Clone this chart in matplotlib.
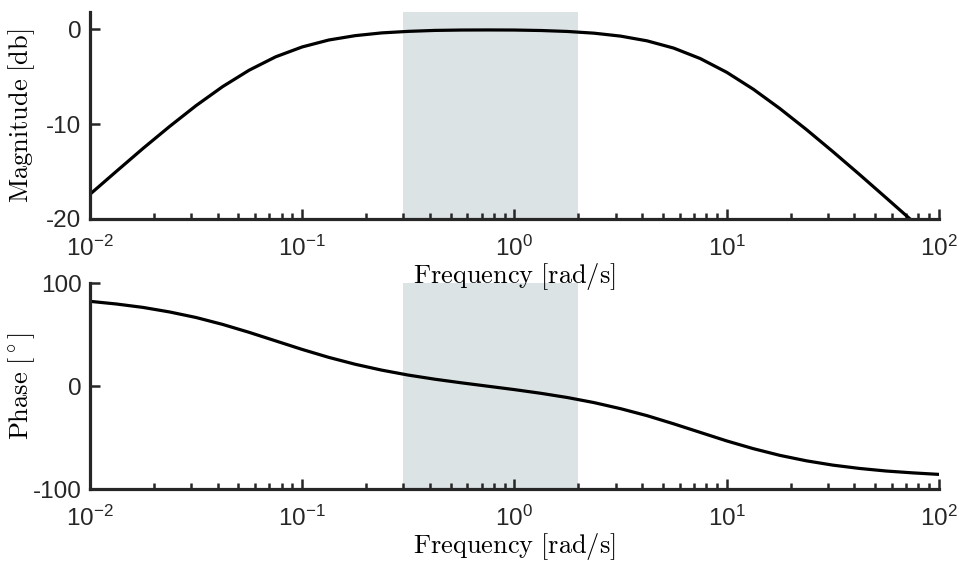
import matplotlib
matplotlib.use("Agg")
import matplotlib.pyplot as plt
from matplotlib.ticker import LogLocator, NullFormatter

plt.rcParams['font.family'] = ['Liberation Sans', 'DejaVu Sans']
plt.rcParams['mathtext.fontset'] = 'cm'
plt.rcParams['axes.unicode_minus'] = False

# frequencies (rad/s)
freq = [0.01, 0.01334, 0.01778, 0.02371, 0.03162, 0.04217, 0.05623, 0.07499,
        0.1, 0.1334, 0.1778, 0.2371, 0.3162, 0.4217, 0.5623, 0.7499,
        1.0, 1.334, 1.778, 2.371, 3.162, 4.217, 5.623, 7.499,
        10.0, 13.34, 17.78, 23.71, 31.62, 42.17, 56.23, 74.99, 100.0]

# magnitude [db]
magnitude = [-17.4, -14.97, -12.57, -10.26, -8.06, -6.06, -4.33, -2.92,
             -1.88, -1.15, -0.69, -0.40, -0.24, -0.14, -0.10, -0.09,
             -0.10, -0.15, -0.25, -0.43, -0.74, -1.24, -2.00, -3.10,
             -4.55, -6.33, -8.36, -10.57, -12.90, -15.30, -17.75, -20.22, -22.7]

# phase [deg]
phase = [82.2, 79.6, 76.3, 71.9, 66.5, 59.8, 52.1, 43.8,
         35.5, 27.8, 21.1, 15.4, 10.6, 6.6, 3.1, -0.2,
         -3.5, -7.1, -11.2, -16.1, -22.0, -28.8, -36.7, -45.0,
         -53.3, -60.8, -67.3, -72.6, -76.8, -80.0, -82.5, -84.3, -85.8]

# shaded band
band = [0.3, 2.0]

spine_col = '#262626'
shade_col = '#dce3e5'

fig = plt.figure(figsize=(9.59, 5.66), dpi=100)
ax2 = fig.add_axes([0.0938, 0.1360, 0.8853, 0.3640])
ax1 = fig.add_axes([0.0938, 0.6131, 0.8853, 0.3657])
ax1.set_zorder(2)


def style(ax):
    ax.set_xscale('log')
    ax.set_xlim(1e-2, 1e2)
    for s in ['top', 'right']:
        ax.spines[s].set_visible(False)
    for s in ['left', 'bottom']:
        ax.spines[s].set_linewidth(2.3)
        ax.spines[s].set_color(spine_col)
    ax.xaxis.set_minor_locator(LogLocator(base=10, subs=range(2, 10), numticks=20))
    ax.xaxis.set_minor_formatter(NullFormatter())
    ax.tick_params(which='major', direction='in', length=7.5, width=1.8,
                   color=spine_col, labelcolor=spine_col, labelsize=17.5)
    ax.tick_params(axis='x', which='major', pad=12)
    ax.tick_params(axis='y', which='major', pad=6)
    ax.tick_params(which='minor', direction='in', length=4.5, width=1.8,
                   color=spine_col)
    ax.set_xlabel(r'$\mathrm{Frequency\ [rad/s]}$', fontsize=19, labelpad=0)
    ax.yaxis.set_label_coords(-0.062, 0.5)


ax1.axvspan(band[0], band[1], color=shade_col, lw=0)
ax1.plot(freq, magnitude, color='black', lw=2.3)
style(ax1)
ax1.set_ylim(-20, 1.8)
ax1.set_yticks([-20, -10, 0])
ax1.set_ylabel(r'$\mathrm{Magnitude\ [db]}$', fontsize=19)

ax2.axvspan(band[0], band[1], color=shade_col, lw=0)
ax2.plot(freq, phase, color='black', lw=2.3)
style(ax2)
ax2.set_ylim(-100, 100)
ax2.set_yticks([-100, 0, 100])
ax2.set_ylabel(r'$\mathrm{Phase\ [^\circ]}$', fontsize=19)

fig.savefig('out.png', dpi=100)
